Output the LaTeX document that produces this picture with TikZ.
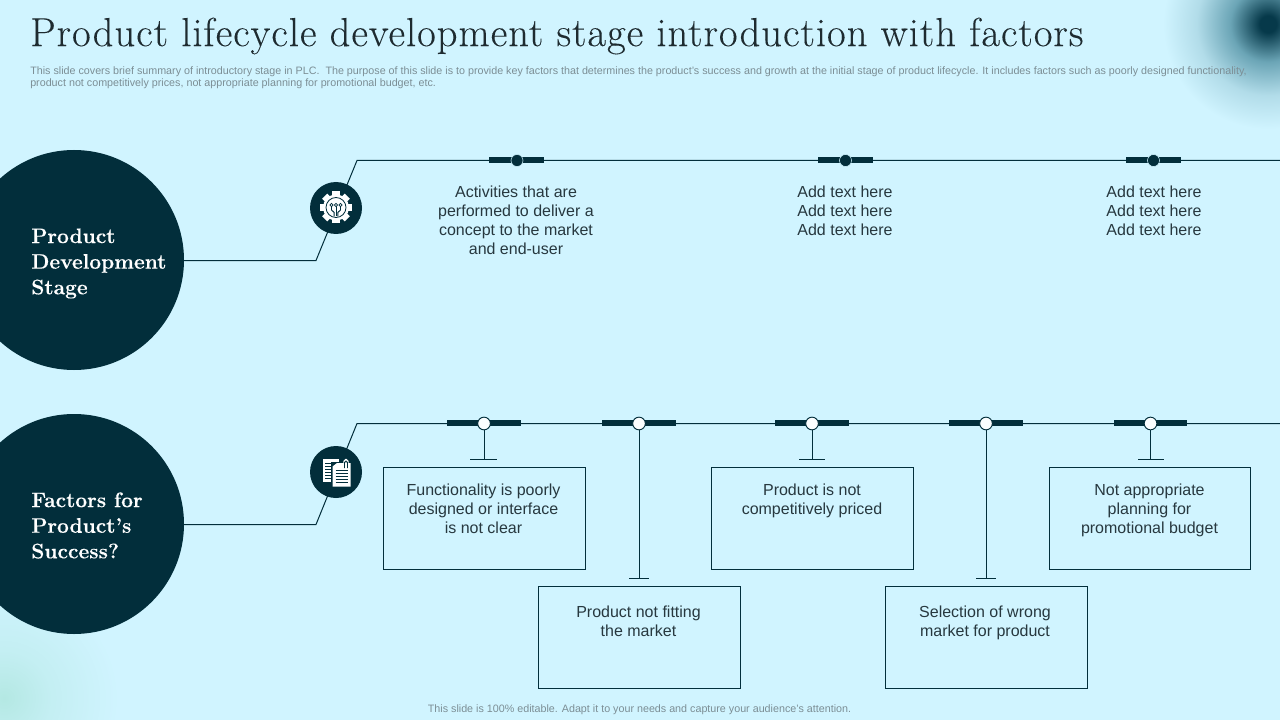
\documentclass[tikz,border=0pt]{standalone}
\usepackage{fontspec}
\setmainfont{Liberation Sans}
\newfontfamily\serifT[LetterSpace=2.5,FakeBold=0.15]{Latin Modern Roman}
\newfontfamily\serifB[FakeBold=0.25]{Latin Modern Roman}
\definecolor{bgc}{HTML}{D0F4FF}
\definecolor{navy}{HTML}{022E3B}
\definecolor{txt}{HTML}{27383F}
\definecolor{ttl}{HTML}{1E2B30}
\definecolor{smalltxt}{HTML}{7C8E95}
\definecolor{glowa}{HTML}{06394A}
\definecolor{glowb}{HTML}{6BA5B6}
\definecolor{glowc}{HTML}{B4E8E3}
\pgfdeclareradialshading{glowdark}{\pgfpointorigin}{color(0bp)=(glowa);color(2bp)=(glowa);color(9bp)=(glowb);color(17bp)=(bgc!70!glowb);color(25bp)=(bgc);color(50bp)=(bgc)}
\pgfdeclareradialshading{glowlight}{\pgfpointorigin}{color(0bp)=(glowc);color(10bp)=(glowc!45!bgc);color(25bp)=(bgc);color(50bp)=(bgc)}
\tikzset{
 x=0.75pt,y=-0.75pt,
 line/.style={draw=navy,line width=0.75pt},
 bar/.style={draw=none,fill=navy},
 darkdot/.style={circle,draw=bgc,line width=0.4pt,fill=navy,minimum size=9pt,inner sep=0pt},
 whitedot/.style={circle,draw=navy,line width=0.7pt,fill=white!92!bgc,minimum size=9.5pt,inner sep=0pt},
 bigcircle/.style={circle,fill=navy,minimum size=165pt,inner sep=0pt},
 iconcircle/.style={circle,fill=navy,minimum size=39pt,inner sep=0pt},
 bigtext/.style={text=white,font=\serifB\bfseries\fontsize{15.75pt}{19.2pt}\selectfont,align=left,anchor=west,inner sep=0pt},
 bodytext/.style={text=txt,font=\fontsize{12pt}{14.25pt}\selectfont,align=center,inner sep=0pt,anchor=north},
 factorbox/.style={draw=navy,line width=0.75pt,minimum width=151.5pt,minimum height=76.5pt,inner sep=0pt,anchor=north west},
 smallnote/.style={text=smalltxt,font=\fontsize{8.05pt}{9pt}\selectfont,inner sep=0pt,anchor=west},
}
\begin{document}
\begin{tikzpicture}
\useasboundingbox (0,0) rectangle (1280,720);
\fill[bgc] (0,0) rectangle (1280,720);
\begin{scope}
\clip (0,0) rectangle (1280,720);
\shade[shading=glowdark] (1268,24) circle[radius=105];
\shade[shading=glowlight] (4,698) circle[radius=115];
\end{scope}
% title
\node[text=ttl,font=\serifT\fontsize{30.4pt}{32pt}\selectfont,anchor=west,inner sep=0pt] (title) at (30,36) {Product lifecycle development stage introduction with factors};
\node[smallnote] (sub1) at (30,71.5) {This slide covers brief summary of introductory stage in PLC.\ \ The purpose of this slide is to provide key factors that determines the product's success and growth at the initial stage of product lifecycle. It includes factors such as poorly designed functionality,};
\node[smallnote] (sub2) at (30,83.5) {product not competitively prices, not appropriate planning for promotional budget, etc.};
\node[smallnote,anchor=center] (foot) at (639.5,709.5) {This slide is 100\% editable. Adapt it to your needs and capture your audience's attention.};
% big circles
\node[bigcircle] (c1) at (74,260) {};
\node[bigcircle] (c2) at (74,524) {};
\node[bigtext] (c1t) at (31,263.5) {Product\\Development\\Stage};
\node[bigtext] (c2t) at (31,525.5) {Factors for\\Product’s\\Success?};
% rails
\coordinate (r1s) at (184,260.5);
\coordinate (r1a) at (316,260.5);
\coordinate (r1b) at (357,160.5);
\coordinate (r1e) at (1280,160.5);
\coordinate (r2s) at (184,524.5);
\coordinate (r2a) at (316,524.5);
\coordinate (r2b) at (357,423.5);
\coordinate (r2e) at (1280,423.5);
\draw[line] (r1s) -- (r1a) -- (r1b) -- (r1e);
\draw[line] (r2s) -- (r2a) -- (r2b) -- (r2e);
% icon circles
\node[iconcircle] (i1) at (336,208) {};
\node[iconcircle] (i2) at (336,472) {};
% gear icon
\begin{scope}[shift={(336,207.5)}]
 \foreach \a in {0,45,...,315}{\fill[white,rotate=\a] (-3.6,-16) rectangle (3.6,-9);}
 \fill[white] (0,0) circle[radius=13];
 \draw[navy,line width=0.6pt] (0,0) circle[radius=10];
 \draw[navy,line width=0.7pt] (-4.5,-1) -- (-4.5,2.5) -- (-1.8,5) -- (-1.8,9);
 \draw[navy,line width=0.7pt] (0,-1) -- (0,9);
 \draw[navy,line width=0.7pt] (4.5,-1) -- (4.5,2.5) -- (1.8,5) -- (1.8,9);
 \foreach \x in {-4.5,0,4.5}{\draw[navy,line width=0.6pt,fill=white] (\x,-2.5) circle[radius=1.6];}
\end{scope}
% documents icon
\begin{scope}[shift={(336,472)}]
 \fill[white] (-13,-13) -- (3,-13) -- (3,10) -- (-13,10) -- cycle;
 \foreach \y in {-9,-6,-3,0,3,6}{\draw[navy,line width=0.6pt] (-11,\y) -- (-4,\y);}
 \fill[navy] (-5,-10) -- (15.5,-10) -- (15.5,15.5) -- (-5,15.5) -- cycle;
 \fill[white] (-3.5,-5.5) -- (1,-9) -- (14.5,-9) -- (14.5,14.5) -- (-3.5,14.5) -- cycle;
 \foreach \y in {-2,1,4,7,10}{\draw[navy,line width=0.6pt] (-0.5,\y) -- (11.5,\y);}
 \draw[white,line width=1.6pt,rounded corners=1pt] (8.5,-5) -- (8.5,-12) -- (11.5,-12) -- (11.5,-5);
 \draw[navy,line width=0.6pt,rounded corners=1pt] (8.5,-4) -- (8.5,-11) -- (11.5,-11) -- (11.5,-4);
\end{scope}
% upper bars and dots
\foreach \n/\x in {a/517,b/845.5,c/1153.5}{
 \fill[bar] (\x-28,157) rectangle (\x+27,163);
 \node[darkdot] (u\n) at (\x,160.5) {};
}
\node[bodytext] (ut1) at (516,185.5) {Activities that are\\performed to deliver a\\concept to the market\\and end-user};
\node[bodytext] (ut2) at (845,185.5) {Add text here\\Add text here\\Add text here};
\node[bodytext] (ut3) at (1154,185.5) {Add text here\\Add text here\\Add text here};
% lower bars and dots
\foreach \n/\x in {a/484,b/639,c/812,d/986,e/1150.5}{
 \fill[bar] (\x-37,420) rectangle (\x+36.5,426);
 \node[whitedot] (d\n) at (\x,423.5) {};
}
% tees
\coordinate (ta) at (484,459.5);
\coordinate (tb) at (639,578.5);
\coordinate (tc) at (812,459.5);
\coordinate (td) at (986,578.5);
\coordinate (te) at (1150.5,459.5);
\draw[line] (da) -- (ta) (470,459.5) -- (497,459.5);
\draw[line] (db) -- (tb) (629,578.5) -- (649,578.5);
\draw[line] (dc) -- (tc) (799,459.5) -- (825,459.5);
\draw[line] (dd) -- (td) (976,578.5) -- (996,578.5);
\draw[line] (de) -- (te) (1138,459.5) -- (1164,459.5);
% boxes
\node[factorbox] (b1) at (383,467) {};
\node[factorbox] (b2) at (538,586) {};
\node[factorbox] (b3) at (711,467) {};
\node[factorbox] (b4) at (885,586) {};
\node[factorbox,minimum width=150.75pt] (b5) at (1049,467) {};
\node[bodytext] (t1) at (483.5,484) {Functionality is poorly\\designed or interface\\is not clear};
\node[bodytext] (t2) at (638.5,606) {Product not fitting\\the market};
\node[bodytext] (t3) at (812,484) {Product is not\\competitively priced};
\node[bodytext] (t4) at (985,606) {Selection of wrong\\market for product};
\node[bodytext] (t5) at (1149.5,484) {Not appropriate\\planning for\\promotional budget};
\end{tikzpicture}
\end{document}
